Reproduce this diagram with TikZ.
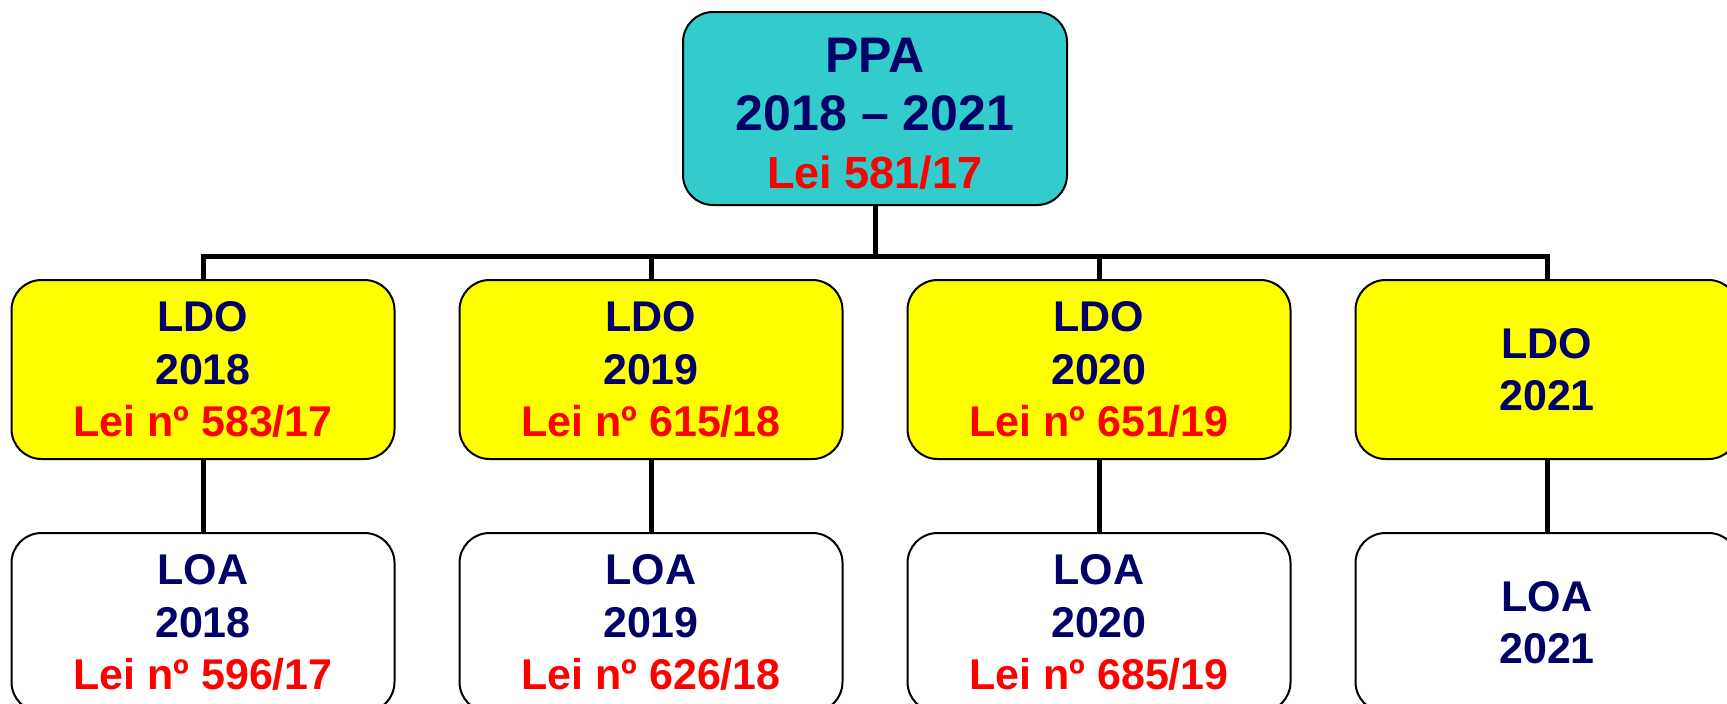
\documentclass[tikz,border=0pt]{standalone}
\usepackage{fontspec}
\setmainfont{Liberation Sans}
\definecolor{navy}{RGB}{0,0,102}
\definecolor{ppacyan}{RGB}{51,204,204}
\definecolor{lawred}{RGB}{255,0,0}
\definecolor{ldoyellow}{RGB}{255,255,0}
\begin{document}
\begin{tikzpicture}[x=1pt,y=-1pt]
\useasboundingbox (0,0) rectangle (1727,704);
\clip (0,0) rectangle (1727,704);
\tikzset{
  box/.style={draw=black, line width=2pt, rounded corners=30pt,
    minimum width=383pt, minimum height=179pt, inner sep=0pt,
    align=center, font=\bfseries\fontsize{43}{52.5}\selectfont, text=navy},
  ldobox/.style={box, fill=ldoyellow},
  loabox/.style={box, fill=white},
  ppabox/.style={box, fill=ppacyan, minimum width=384pt, minimum height=193pt},
  ppatext/.style={align=center, inner sep=0pt, text=navy, font=\bfseries\fontsize{50}{58}\selectfont},
  link/.style={line width=5pt, line join=miter}
}
\node[ppabox] (ppa) at (875,108.5) {};
\node[ppatext] (ppalabel) at ([yshift=-5pt]ppa.center)
  {PPA\\2018 – 2021\\{\fontsize{45}{58}\selectfont\color{lawred}Lei 581/17}};

\node[ldobox] (ldo1) at (203,369.5) {LDO\\2018\\{\color{lawred}Lei nº 583/17}};
\node[ldobox] (ldo2) at (651,369.5) {LDO\\2019\\{\color{lawred}Lei nº 615/18}};
\node[ldobox] (ldo3) at (1099,369.5) {LDO\\2020\\{\color{lawred}Lei nº 651/19}};
\node[ldobox] (ldo4) at (1547,369.5) {LDO\\2021};

\node[loabox] (loa1) at (203,622.5) {LOA\\2018\\{\color{lawred}Lei nº 596/17}};
\node[loabox] (loa2) at (651,622.5) {LOA\\2019\\{\color{lawred}Lei nº 626/18}};
\node[loabox] (loa3) at (1099,622.5) {LOA\\2020\\{\color{lawred}Lei nº 685/19}};
\node[loabox] (loa4) at (1547,622.5) {LOA\\2021};

\coordinate (bar) at (875,256);
\draw[link] (ppa.south) -- (bar);
\draw[link] (ldo1.north) |- (bar) -| (ldo4.north);
\draw[link] (ldo2.north) -- (ldo2.north |- bar);
\draw[link] (ldo3.north) -- (ldo3.north |- bar);
\draw[link] (ldo1.south) -- (loa1.north);
\draw[link] (ldo2.south) -- (loa2.north);
\draw[link] (ldo3.south) -- (loa3.north);
\draw[link] (ldo4.south) -- (loa4.north);
\end{tikzpicture}
\end{document}
